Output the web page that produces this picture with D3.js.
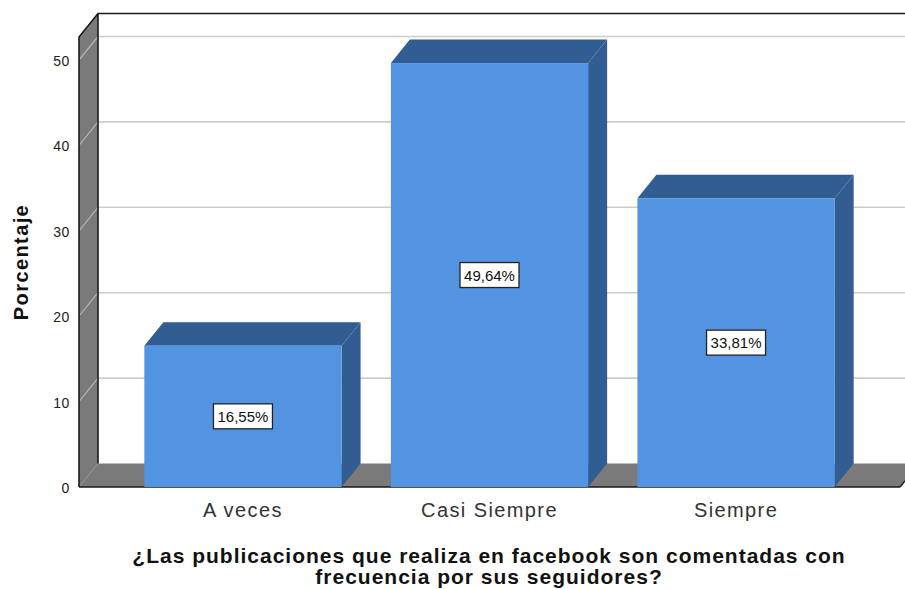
<!DOCTYPE html>
<html><head><meta charset="utf-8">
<script src="https://cdn.jsdelivr.net/npm/d3@7"></script>
<style>html,body{margin:0;padding:0;background:#fff}svg{display:block}
text{font-family:"Liberation Sans",Arial,sans-serif}</style></head>
<body><svg id="c" width="905" height="589"></svg>
<script>
const categories=["A veces","Casi Siempre","Siempre"];
const values=[16.55,49.64,33.81];
const labels=["16,55%","49,64%","33,81%"];
const yTicks=[0,10,20,30,40,50];
const titleLines=["¿Las publicaciones que realiza en facebook son comentadas con","frecuencia por sus seguidores?"];
const yTitle="Porcentaje";

const svg=d3.select("#c");
const left=79,right=900,y0=487,dx=19,dy=23.5;
const x=d3.scaleBand().domain(categories).range([left,right]).paddingInner(0.2).paddingOuter(0.265);
const y=d3.scaleLinear().domain([0,50]).range([y0,60]);
const topV=y.invert(37);
const wall="#7a7a7a",barC="#5294e2",side="#325d92",grid="#cccccc",edge="#1a1a1a";
const poly=p=>p.map(d=>d.join(",")).join(" ");

// walls
svg.append("polygon").attr("points",poly([[left,y0],[left+dx,y0-dy],[right+dx,y0-dy],[right,y0]])).attr("fill",wall);
svg.append("polygon").attr("points",poly([[left,y(topV)],[left+dx,y(topV)-dy],[left+dx,y0-dy],[left,y0]])).attr("fill",wall);

// gridlines
const gt=yTicks.slice(1);
svg.selectAll("line.g").data(gt).join("line").attr("class","g")
 .attr("x1",left+dx).attr("x2",905).attr("y1",d=>y(d)-dy).attr("y2",d=>y(d)-dy)
 .attr("stroke",grid).attr("stroke-width",1.6);
svg.selectAll("line.gw").data(gt).join("line").attr("class","gw")
 .attr("x1",left).attr("x2",left+dx).attr("y1",d=>y(d)).attr("y2",d=>y(d)-dy)
 .attr("stroke","#b4b4b4").attr("stroke-width",1.2);

// frame
svg.append("path").attr("fill","none").attr("stroke",edge).attr("stroke-width",1.6)
 .attr("d",`M${left},${y0}L${left},${y(topV)}L${left+dx},${y(topV)-dy}L905,${y(topV)-dy}M${left+dx},${y(topV)-dy}L${left+dx},${y0-dy}`);
svg.append("line").attr("x1",left).attr("x2",right).attr("y1",y0).attr("y2",y0).attr("stroke",edge).attr("stroke-width",1.6);
svg.append("line").attr("x1",right).attr("x2",905).attr("y1",y0).attr("y2",y0-(905-right)*dy/dx).attr("stroke",edge).attr("stroke-width",1.4);

// bars
const g=svg.selectAll("g.b").data(categories.map((c,i)=>({c,v:values[i],l:labels[i]}))).join("g").attr("class","b");
const bw=x.bandwidth();
g.append("polygon").attr("fill",side).attr("points",d=>{const a=x(d.c)+bw,t=y(d.v);return poly([[a,t],[a+dx,t-dy],[a+dx,y0-dy],[a,y0]]);});
g.append("polygon").attr("fill",side).attr("points",d=>{const a=x(d.c),t=y(d.v);return poly([[a,t],[a+dx,t-dy],[a+bw+dx,t-dy],[a+bw,t]]);});
g.append("rect").attr("fill",barC).attr("x",d=>x(d.c)).attr("width",bw).attr("y",d=>y(d.v)).attr("height",d=>y0-y(d.v));
// value labels
g.append("rect").attr("x",d=>x(d.c)+bw/2-29.5).attr("width",59).attr("y",d=>y(d.v/2)-12.5).attr("height",25)
 .attr("fill","#fff").attr("stroke","#222").attr("stroke-width",1.3);
g.append("text").attr("x",d=>x(d.c)+bw/2).attr("y",d=>y(d.v/2)+5.5).attr("text-anchor","middle")
 .attr("font-size",15).attr("fill","#111").text(d=>d.l);

// axes
const ya=svg.append("g").attr("transform",`translate(${left},1)`).call(d3.axisLeft(y).tickValues(yTicks).tickSize(0).tickPadding(9));
ya.select(".domain").remove();
ya.selectAll("text").attr("font-size",14).attr("fill","#222").attr("letter-spacing",0.6).style("font-family",'"Liberation Sans",Arial,sans-serif');
const xa=svg.append("g").attr("transform",`translate(0,${y0})`).call(d3.axisBottom(x).tickSize(0).tickPadding(16));
xa.select(".domain").remove();
xa.selectAll("text").attr("font-size",20).attr("fill","#333").attr("letter-spacing",1.4).style("font-family",'"Liberation Sans",Arial,sans-serif');

// titles
svg.append("text").attr("transform","translate(28,262) rotate(-90)").attr("text-anchor","middle")
 .attr("font-size",20).attr("font-weight","bold").attr("fill","#111").attr("letter-spacing",1.4).text(yTitle);
svg.selectAll("text.t").data(titleLines).join("text").attr("class","t").attr("x",489).attr("y",(d,i)=>563+i*21)
 .attr("text-anchor","middle").attr("font-size",21).attr("font-weight","bold").attr("fill","#111").attr("letter-spacing",1).text(d=>d);
</script></body></html>
